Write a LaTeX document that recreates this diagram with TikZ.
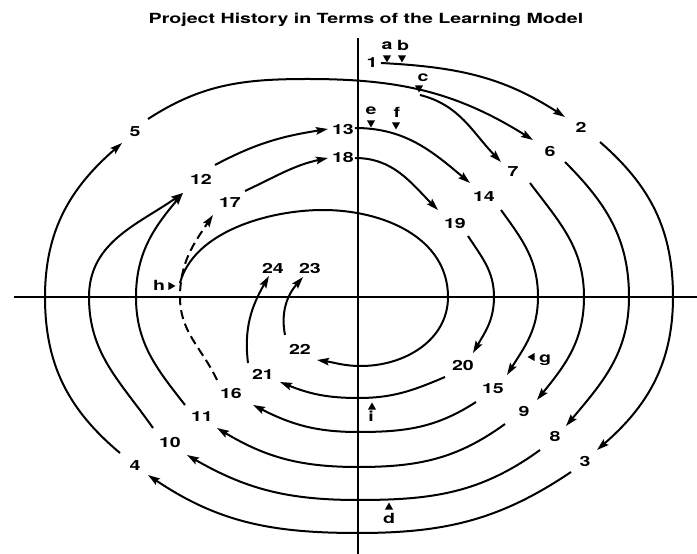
\documentclass[tikz,border=0pt]{standalone}
\usepackage{fontspec}
\usetikzlibrary{arrows.meta, shapes.geometric}
\newfontfamily\heros{TeX Gyre Heros}[FakeStretch=1.4]

\begin{document}
\begin{tikzpicture}[
  x=1pt, y=1pt,
  every node/.style={font=\heros\bfseries\fontsize{14}{16}\selectfont, inner sep=1pt},
  arr/.style={-{Stealth[length=12pt,width=7.5pt,inset=2pt]}, line width=2pt},
  dash arr/.style={arr, dash pattern=on 9pt off 5pt},
  axis/.style={line width=1.4pt},
  tri/.style={isosceles triangle, isosceles triangle stretches, fill, inner sep=0pt,
              minimum width=8pt, minimum height=7pt, anchor=apex},
  tri down/.style={tri, rotate=-90},
  tri up/.style={tri, rotate=90},
  tri left/.style={tri, rotate=180},
  tri right/.style={tri}
]
\useasboundingbox (-358,-257) rectangle (339,297);

%% Title
\node (title) at (8,277) {Project History in Terms of the Learning Model};

%% Axes
\draw[axis] (-344,0) -- (339,0);
\draw[axis] (0,259) -- (0,-257);

%% ---- Points on the spiral ----
% outer ring
\coordinate (s12) at (23,234);    \coordinate (t2) at (207,180);
\coordinate (s23) at (242,155);   \coordinate (x23) at (315,0);   \coordinate (t3) at (239,-153);
\coordinate (s34) at (213,-175);  \coordinate (x34) at (0,-236);  \coordinate (t4) at (-210,-178);
\coordinate (s45) at (-238,-156); \coordinate (x45) at (-313,0);  \coordinate (t5) at (-236,154);
\coordinate (s56) at (-210,178);  \coordinate (x56) at (-50,218); \coordinate (t6) at (175,157);
\coordinate (c) at (62,202);      \coordinate (t7) at (143,135);
% second and third rings
\coordinate (s68) at (207,135);   \coordinate (x68) at (271,0);   \coordinate (t8) at (208,-129);
\coordinate (s79) at (172,114);   \coordinate (x79) at (226,0);   \coordinate (t9) at (179,-103);
\coordinate (s810) at (182,-153); \coordinate (x810) at (0,-203); \coordinate (t10) at (-171,-158);
\coordinate (s911) at (147,-127); \coordinate (x911) at (0,-170); \coordinate (t11) at (-141,-131);
\coordinate (s1012) at (-205,-131); \coordinate (x1012) at (-269,0);
\coordinate (s1112) at (-173,-108); \coordinate (x1112) at (-222,0);
\coordinate (t12) at (-175,104);
\coordinate (s1213) at (-143,132); \coordinate (t13) at (-30,168);
% fourth ring
\coordinate (s1314) at (-3,169);  \coordinate (t14) at (112,114);
\coordinate (s1415) at (143,87);  \coordinate (x1415) at (180,0);   \coordinate (t15) at (149,-78);
\coordinate (s1516) at (118,-105); \coordinate (x1516) at (0,-135); \coordinate (t16) at (-105,-108);
\coordinate (s1617) at (-141,-83); \coordinate (x1617) at (-178,0); \coordinate (t17) at (-145,82);
\coordinate (s1718) at (-113,106); \coordinate (t18) at (-30,139);
% fifth ring
\coordinate (s1819) at (-3,139);  \coordinate (t19) at (80,87);
\coordinate (s1920) at (110,61);  \coordinate (x1920) at (136,0);   \coordinate (t20) at (115,-56);
\coordinate (s2021) at (87,-80);  \coordinate (x2021) at (0,-101);  \coordinate (t21) at (-78,-85);
% inner ring from h
\coordinate (sh) at (-178,14);    \coordinate (yh) at (-35,87);     \coordinate (xh) at (90,0);
\coordinate (bh) at (3,-69);      \coordinate (t22) at (-41,-63);
\coordinate (s2124) at (-110,-66); \coordinate (t24) at (-89,21);
\coordinate (s2223) at (-73,-38);  \coordinate (t23) at (-55,20);

%% ---- Arcs ----
\draw[arr] (s12) to[out=-3,in=147] (t2);
\draw[arr] (s23) to[out=-41,in=90] (x23) to[out=-90,in=41] (t3);
\draw[arr] (s34) to[out=-146,in=0] (x34) to[out=180,in=-34] (t4);
\draw[arr] (s45) to[out=140,in=-90] (x45) to[out=90,in=-139] (t5);
\draw[arr] (s56) to[out=33,in=180] (x56) to[out=0,in=148] (t6);
\draw[arr] (c) to[out=-14,in=134] (t7);

\draw[arr] (s68) to[out=-45,in=90] (x68) to[out=-90,in=50] (t8);
\draw[arr] (s79) to[out=-53,in=90] (x79) to[out=-90,in=51] (t9);
\draw[arr] (s810) to[out=-144,in=0] (x810) to[out=180,in=-30] (t10);
\draw[arr] (s911) to[out=-144,in=0] (x911) to[out=180,in=-31] (t11);
\draw[arr] (s1012) to[out=125,in=-90] (x1012) to[out=90,in=-145] (t12);
\draw[arr] (s1112) to[out=128,in=-90] (x1112) to[out=90,in=-130] (t12);
\draw[arr] (s1213) to[out=28,in=-171] (t13);

\draw[arr] (s1314) to[out=0,in=140] (t14);
\draw[arr] (s1415) to[out=-54,in=90] (x1415) to[out=-90,in=58] (t15);
\draw[arr] (s1516) to[out=-147,in=0] (x1516) to[out=180,in=-27] (t16);
\draw[dash arr] (s1617) to[out=115,in=-90] (x1617) to[out=90,in=-124] (t17);
\draw[arr] (s1718) to[out=25,in=-168] (t18);

\draw[arr] (s1819) to[out=0,in=135] (t19);
\draw[arr] (s1920) to[out=-57,in=90] (x1920) to[out=-90,in=60] (t20);
\draw[arr] (s2021) to[out=-157,in=0] (x2021) to[out=180,in=-22] (t21);

\draw[arr] (sh) to[out=75,in=180,looseness=0.85] (yh) to[out=0,in=90] (xh)
  to[out=-90,in=0] (bh) to[out=180,in=-8] (t22);
\draw[arr] (s2124) to[out=97,in=-120] (t24);
\draw[arr] (s2223) to[out=101,in=-131] (t23);

%% ---- Numbers ----
\node (n1) at (14,234) {1};
\node (n2) at (223,170) {2};
\node (n3) at (227,-164) {3};
\node (n4) at (-223,-169) {4};
\node (n5) at (-223,165) {5};
\node (n6) at (192,146) {6};
\node (n7) at (155,125) {7};
\node (n8) at (197,-139) {8};
\node (n9) at (166,-114) {9};
\node (n10) at (-188,-145) {10};
\node (n11) at (-156,-120) {11};
\node (n12) at (-157,118) {12};
\node (n13) at (-15,168) {13};
\node (n14) at (126,100) {14};
\node (n15) at (135,-92) {15};
\node (n16) at (-127,-96) {16};
\node (n17) at (-128,94) {17};
\node (n18) at (-15,140) {18};
\node (n19) at (97,74) {19};
\node (n20) at (105,-68) {20};
\node (n21) at (-95,-77) {21};
\node (n22) at (-58,-52) {22};
\node (n23) at (-48,29) {23};
\node (n24) at (-85,29) {24};

%% ---- Event markers ----
\node[tri down] (ta) at (29,234) {};
\node[tri down] (tb) at (44,234) {};
\node[tri down] (tc) at (61,204) {};
\node[tri up] (td) at (31,-205) {};
\node[tri down] (te) at (13,169) {};
\node[tri down] (tf) at (38,167) {};
\node[tri left] (tg) at (169,-60) {};
\node[tri right] (th) at (-182,11) {};
\node[tri up] (ti) at (14,-105) {};

\node (la) at (29,251) {a};
\node (lb) at (45,252) {b};
\node (lc) at (65,219) {c};
\node (ld) at (31,-221) {d};
\node (le) at (13,186) {e};
\node (lf) at (39,185) {f};
\node (lg) at (187,-63) {g};
\node (lh) at (-199,12) {h};
\node (li) at (13,-119) {i};

\end{tikzpicture}
\end{document}
